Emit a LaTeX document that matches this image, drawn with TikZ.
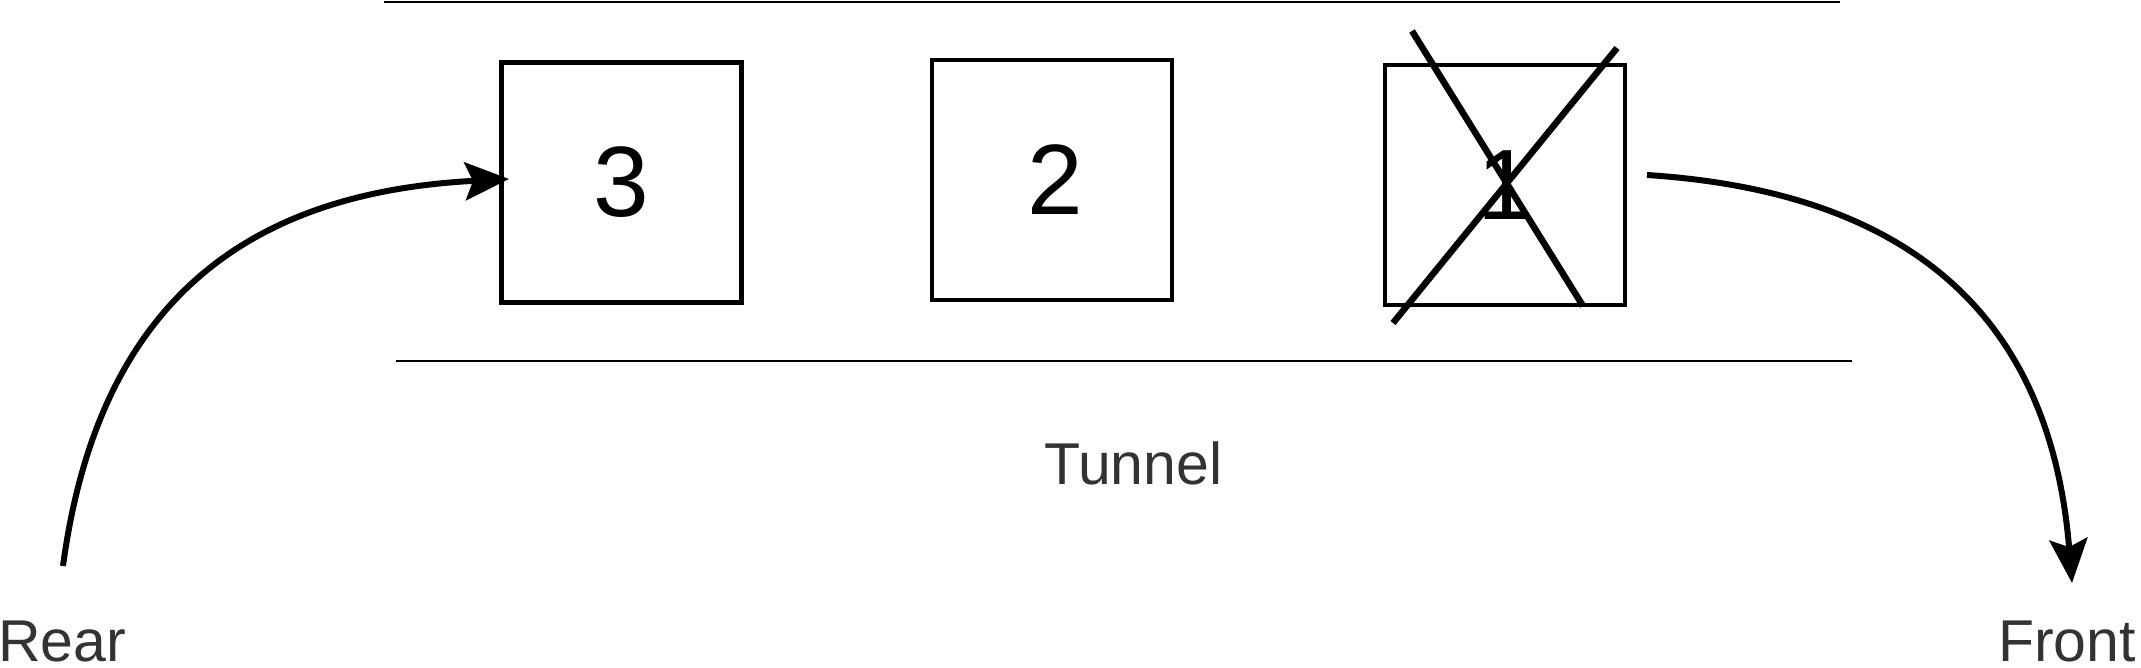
\documentclass[tikz,border=0pt]{standalone}
\usepackage{fontspec}
\setmainfont{Liberation Sans}
\usetikzlibrary{arrows.meta}
\definecolor{txtgray}{HTML}{333333}
\begin{document}
\begin{tikzpicture}[x=1pt,y=-1pt,
  box/.style={draw, line width=4.5pt, minimum width=240pt, minimum height=240pt, inner sep=0pt, font=\fontsize{100}{110}\selectfont},
  lbl/.style={text=txtgray, font=\fontsize{59}{70}\selectfont, inner sep=0pt},
  wall/.style={line width=2.5pt},
  strike/.style={line width=6.5pt},
  arr/.style={line width=6pt, -{Stealth[length=44pt,width=38pt,inset=8pt]}}]
\useasboundingbox (0,0) rectangle (2141,668);
% tunnel walls
\coordinate (tw1) at (384,2);
\coordinate (tw2) at (1840,2);
\coordinate (bw1) at (396,361);
\coordinate (bw2) at (1852,361);
\draw[wall] (tw1) -- (tw2);
\draw[wall] (bw1) -- (bw2);
% boxes
\node[box] (b3) at (621.5,182.5) {3};
\node[box] (b2) at (1052,180) {\hspace*{6pt}2};
\node[box] (b1) at (1505,185) {\raisebox{-5.5pt}{1}};
% strike-through
\coordinate (sa1) at (1412,31);
\coordinate (sa2) at (1583,306);
\coordinate (sb1) at (1617,48);
\coordinate (sb2) at (1393,323);
\draw[strike] (sa1) -- (sa2);
\draw[strike] (sb1) -- (sb2);
% labels
\node[lbl, anchor=base west] (rear) at (-2,661) {Rear};
\node[lbl, anchor=base west] (tunnel) at (1044,484) {Tunnel};
\node[lbl, anchor=base west] (front) at (1998,661) {Front};
% arrows
\coordinate (rs) at (63,566);
\coordinate (rt) at (509,179);
\draw[arr] (rs) .. controls (100,290) and (260,192) .. (rt);
\coordinate (fs) at (1647,175);
\coordinate (ft) at (2072,583);
\draw[arr] (fs) .. controls (1909,192) and (2050,315) .. (ft);
\end{tikzpicture}
\end{document}
